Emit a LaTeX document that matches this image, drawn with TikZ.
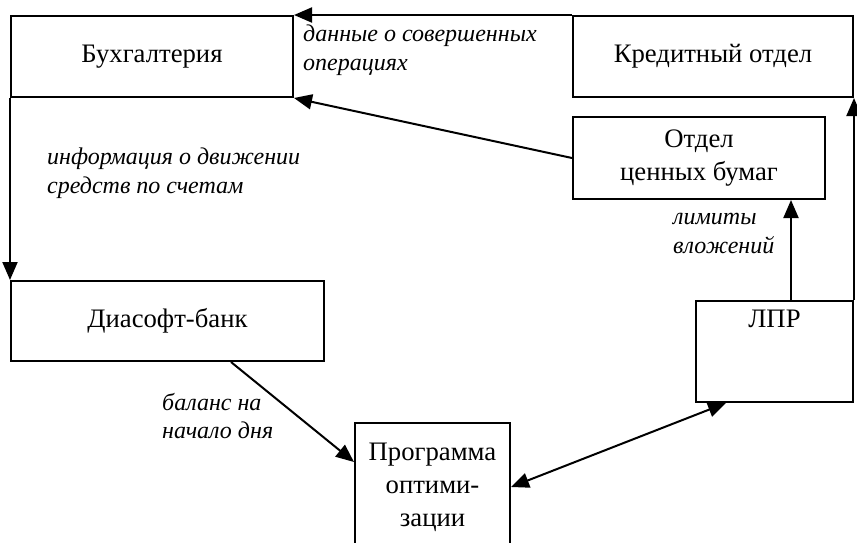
\documentclass[tikz,border=0pt]{standalone}
\usepackage{fontspec}
\setmainfont{Liberation Serif}
\usetikzlibrary{arrows.meta,calc}
\begin{document}
\begin{tikzpicture}[x=1pt,y=-1pt,
  box/.style={draw,line width=2pt,inner sep=0pt,align=center,font=\fontsize{26.7}{33}\selectfont},
  lbl/.style={inner sep=0pt,align=left,anchor=west,font=\fontsize{24}{28.5}\selectfont\itshape},
  tip/.style={Triangle[length=18pt,width=15pt]},
  arr/.style={line width=2pt,-{Triangle[length=18pt,width=15pt]}},
  darr/.style={line width=2pt,{Triangle[length=18pt,width=15pt]}-{Triangle[length=18pt,width=15pt]}}]
\useasboundingbox (0,0) rectangle (857,542);
\clip (0,0) rectangle (857,542);
\node[box,minimum width=282pt,minimum height=81pt] (buh) at (152,56.5) {Бухгалтерия};
\node[box,minimum width=280pt,minimum height=81pt] (kred) at (713,56.5) {Кредитный отдел};
\node[box,minimum width=252pt,minimum height=82pt] (otd) at (699,158) {Отдел\\ценных бумаг};
\node[box,minimum width=313pt,minimum height=80pt] (dia) at (167.5,321) {Диасофт-банк};
\node[box,minimum width=157pt,minimum height=101pt,
  label={[anchor=north,inner sep=0pt,yshift=-10pt,font=\fontsize{26.7}{33}\selectfont]north:ЛПР}] (lpr) at (774.5,351.5) {};
\node[box,minimum width=155pt,minimum height=128pt] (prog) at (432.5,487) {Программа\\оптими-\\зации};
\coordinate (diaout) at ($(dia.south west)+(221,0)$);
\coordinate (progin) at ($(prog.north west)+(0,40)$);
\coordinate (lprlow) at ($(lpr.south west)+(31,0)$);
\coordinate (lprtop) at ($(lpr.north west)+(96,0)$);
\draw[arr] (kred.north west) -- (buh.north east);
\draw[arr] (otd.west) -- (buh.south east);
\draw[arr] (buh.south west) -- (dia.north west);
\draw[arr] (diaout) -- (progin);
\draw[darr] (prog.east) -- (lprlow);
\draw[arr] (lprtop) -- (lprtop |- otd.south);
\draw[arr] (lpr.north east) -- (kred.south east);
\node[lbl] (l1) at (303,50) {данные о совершенных\\операциях};
\node[lbl] (l2) at (47,173) {информация о движении\\средств по счетам};
\node[lbl] (l3) at (162,416) {баланс на\\начало дня};
\node[lbl] (l4) at (673,233.5) {лимиты\\вложений};
\end{tikzpicture}
\end{document}
